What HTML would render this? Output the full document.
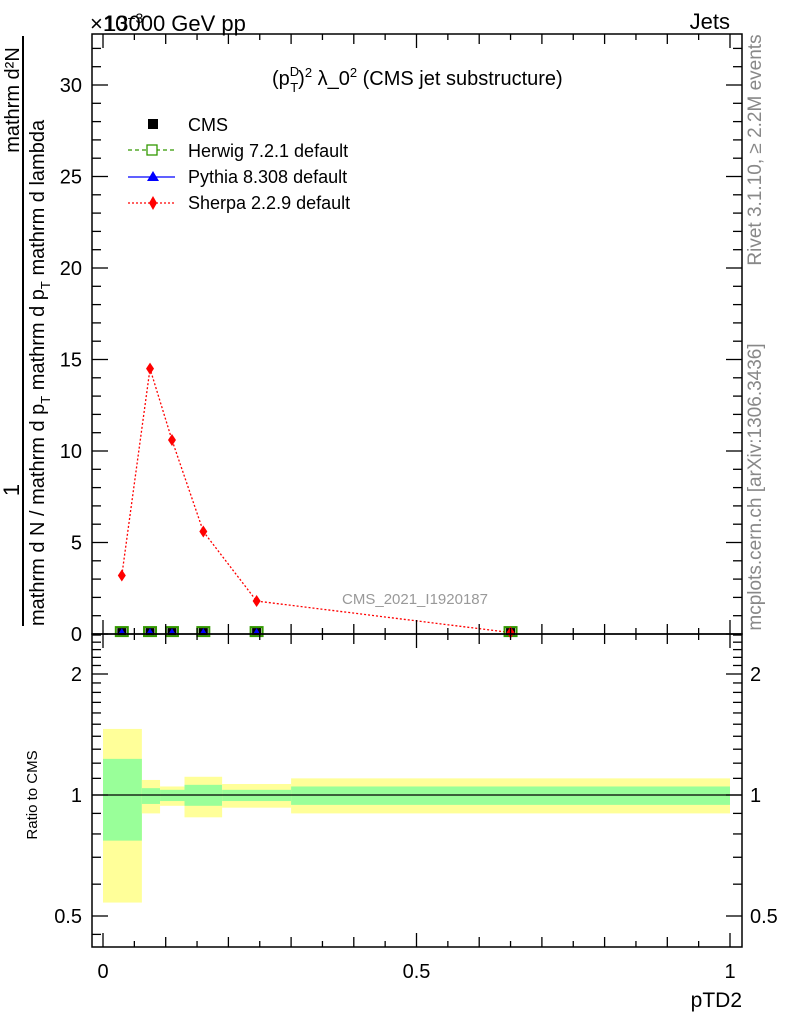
<!DOCTYPE html>
<html><head><meta charset="utf-8">
<style>
body{margin:0;background:#fff;}
svg{display:block;font-family:"Liberation Sans",sans-serif;}
</style></head>
<body>
<svg id="chart" width="786" height="1024" viewBox="0 0 786 1024">
<g id="bands"></g>
<g id="grid"></g>
<g id="marks"></g>
<g id="axes"></g>
<g id="texts"></g>
</svg>
<script>
const binEdges=[0,0.062,0.091,0.13,0.19,0.3,1];
const xPoints=[0.03,0.075,0.11,0.16,0.245,0.65];
const sherpaVals=[3.2,14.5,10.6,5.6,1.8,0.08];
const cmsVals=[0.05,0.05,0.05,0.05,0.05,0.05];
const herwigVals=[0.05,0.05,0.05,0.05,0.05,0.05];
const pythiaVals=[0.05,0.05,0.05,0.05,0.05,0.05];
const yellowUp=[1.46,1.09,1.05,1.11,1.065,1.10];
const yellowDn=[0.54,0.90,0.94,0.88,0.93,0.90];
const greenUp=[1.23,1.04,1.03,1.06,1.03,1.05];
const greenDn=[0.77,0.95,0.966,0.94,0.966,0.945];
const mainTicks=[0,5,10,15,20,25,30];
const ratioTicks=[0.5,1,2];
const xTicks=[0,0.5,1];

const NS="http://www.w3.org/2000/svg";
const L=92,R=742,T=34,MB=634,RB=947;
const X=v=>103+v*627;
const Y=v=>634-v*18.3;
const YR=r=>795-121*Math.log2(r);
function mk(tag,attrs,parent,text){const e=document.createElementNS(NS,tag);for(const k in attrs)e.setAttribute(k,attrs[k]);if(text!==undefined)e.textContent=text;document.getElementById(parent).appendChild(e);return e;}

for(let i=0;i<yellowUp.length;i++){
  const x0=X(binEdges[i]),x1=X(binEdges[i+1]);
  let e=mk('rect',{x:x0,y:YR(yellowUp[i]),width:x1-x0,height:YR(yellowDn[i])-YR(yellowUp[i]),fill:'#ffff99'},'bands');
  
  
  e=mk('rect',{x:x0,y:YR(greenUp[i]),width:x1-x0,height:YR(greenDn[i])-YR(greenUp[i]),fill:'#99ff99'},'bands');
  
  
}
mk('line',{x1:L,x2:R,y1:YR(1),y2:YR(1),stroke:'#000','stroke-width':1.3},'bands');

let pts=xPoints.map((x,i)=>X(x)+','+Y(sherpaVals[i])).join(' ');
let pl=mk('polyline',{points:pts,fill:'none',stroke:'#f00','stroke-width':1.3,'stroke-dasharray':'2,2'},'marks');


for(let i=0;i<xPoints.length;i++){
  const cx=X(xPoints[i]);
  let e=mk('rect',{x:cx-6,y:Y(herwigVals[i])-6,width:12,height:9,fill:'none',stroke:'#339900','stroke-width':2},'marks');
  
  
  e=mk('rect',{x:cx-4.5,y:Y(cmsVals[i])-5,width:9,height:7,fill:'#000'},'marks');
  
  
  const py=Y(pythiaVals[i]);
  e=mk('polygon',{points:`${cx-3},${py} ${cx+3},${py} ${cx},${py-5}`,fill:'#00f'},'marks');
  
  
  const sy=Y(sherpaVals[i]);
  e=mk('polygon',{points:`${cx},${sy-6} ${cx+4},${sy} ${cx},${sy+6} ${cx-4},${sy}`,fill:'#f00'},'marks');
  
  
}

mk('rect',{x:L,y:T,width:R-L,height:MB-T,fill:'none',stroke:'#000','stroke-width':1.5},'axes');
mk('rect',{x:L,y:MB,width:R-L,height:RB-MB,fill:'none',stroke:'#000','stroke-width':1.5},'axes');
for(let k=0;k<=20;k++){const v=k*0.05,x=X(v);const len=(k%10==0)?14:(k%2==0?10:6);
  [[MB,-1],[T,1],[MB,1],[RB,-1]].forEach(([y,d])=>mk('line',{x1:x,x2:x,y1:y,y2:y+d*len,stroke:'#000','stroke-width':1.3},'axes'));}
for(let v=0;v<=32;v++){const y=Y(v),len=v%5==0?16:9;
  mk('line',{x1:L,x2:L+len,y1:y,y2:y,stroke:'#000','stroke-width':1.3},'axes');
  mk('line',{x1:R,x2:R-len,y1:y,y2:y,stroke:'#000','stroke-width':1.3},'axes');}
mainTicks.forEach(v=>{const e=mk('text',{x:82,y:Y(v)+7,'text-anchor':'end','font-size':20},'texts',String(v));});
const rminor=[0.5,0.6,0.7,0.8,0.9,1,1.1,1.2,1.3,1.4,1.5,1.6,1.7,1.8,1.9,2,2.1,2.2,2.3,2.4,2.5];
rminor.forEach(r=>{const y=YR(r),len=(r==0.5||r==1||r==2)?16:9;
  mk('line',{x1:L,x2:L+len,y1:y,y2:y,stroke:'#000','stroke-width':1.3},'axes');
  mk('line',{x1:R,x2:R-len,y1:y,y2:y,stroke:'#000','stroke-width':1.3},'axes');});
mk('line',{x1:L,x2:L+9,y1:YR(0.45),y2:YR(0.45),stroke:'#000','stroke-width':1.3},'axes');
ratioTicks.forEach(r=>{let e=mk('text',{x:82,y:YR(r)+7,'text-anchor':'end','font-size':20},'texts',String(r));
  e=mk('text',{x:750,y:YR(r)+7,'font-size':20},'texts',String(r));});
xTicks.forEach(v=>{const e=mk('text',{x:X(v),y:978,'text-anchor':'middle','font-size':20},'texts',String(v));});
</script>
<div style="position:absolute;left:0;top:0;width:786px;height:1024px;pointer-events:none;">
<svg width="786" height="1024" style="position:absolute;left:0;top:0;font-family:'Liberation Sans',sans-serif;">
<text x="90" y="31" font-size="22">×10<tspan font-size="14" dy="-8">−3</tspan></text>
<text x="104" y="31" font-size="22">13000 GeV pp</text>
<text x="730" y="29" font-size="22" text-anchor="end">Jets</text>
<text x="272" y="85" font-size="20">(p<tspan font-size="13" dy="-9">D</tspan><tspan font-size="13" dx="-9" dy="16">T</tspan><tspan dy="-7">)</tspan><tspan font-size="13" dy="-8">2</tspan><tspan dy="8"> λ_0</tspan><tspan font-size="13" dy="-8">2</tspan><tspan dy="8"> (CMS jet substructure)</tspan></text>
<g>
<rect x="148" y="119" width="10" height="10" fill="#000"/>
<text x="188" y="131" font-size="18">CMS</text>
<line x1="128" x2="175" y1="150" y2="150" stroke="#339900" stroke-width="1.3" stroke-dasharray="4,3"/>
<rect x="147" y="145" width="10" height="10" fill="#fff" stroke="#339900" stroke-width="1.3"/>
<text x="188" y="157" font-size="18">Herwig 7.2.1 default</text>
<line x1="128" x2="175" y1="177" y2="177" stroke="#00f" stroke-width="1.3"/>
<polygon points="147,181 159,181 153,171" fill="#00f"/>
<text x="188" y="183" font-size="18">Pythia 8.308 default</text>
<line x1="128" x2="175" y1="203" y2="203" stroke="#f00" stroke-width="1.3" stroke-dasharray="2,2"/>
<polygon points="153,196 157,203 153,210 149,203" fill="#f00"/>
<text x="188" y="209" font-size="18">Sherpa 2.2.9 default</text>
</g>
<text x="415" y="604" font-size="15" fill="#999" text-anchor="middle">CMS_2021_I1920187</text>
<text transform="translate(761,150) rotate(-90)" font-size="19" fill="#888" text-anchor="middle">Rivet 3.1.10, ≥ 2.2M events</text>
<text transform="translate(761,487) rotate(-90)" font-size="19" fill="#888" text-anchor="middle">mcplots.cern.ch [arXiv:1306.3436]</text>
<text x="742" y="1007" font-size="21" text-anchor="end">pTD2</text>
<text transform="translate(37,795) rotate(-90)" font-size="15" text-anchor="middle">Ratio to CMS</text>
<g>
<line x1="23" x2="23" y1="36" y2="626" stroke="#000" stroke-width="2"/>
<text transform="translate(19,490) rotate(-90)" font-size="22" text-anchor="middle">1</text>
<text transform="translate(19,100) rotate(-90)" font-size="20" text-anchor="middle">mathrm d²N</text>
<text transform="translate(44,626) rotate(-90)" font-size="20">mathrm d N / mathrm d p<tspan font-size="13" dy="6">T</tspan><tspan dy="-6"> mathrm d p</tspan><tspan font-size="13" dy="6">T</tspan><tspan dy="-6"> mathrm d lambda</tspan></text>
</g>
</svg>
</div>
</body></html>
